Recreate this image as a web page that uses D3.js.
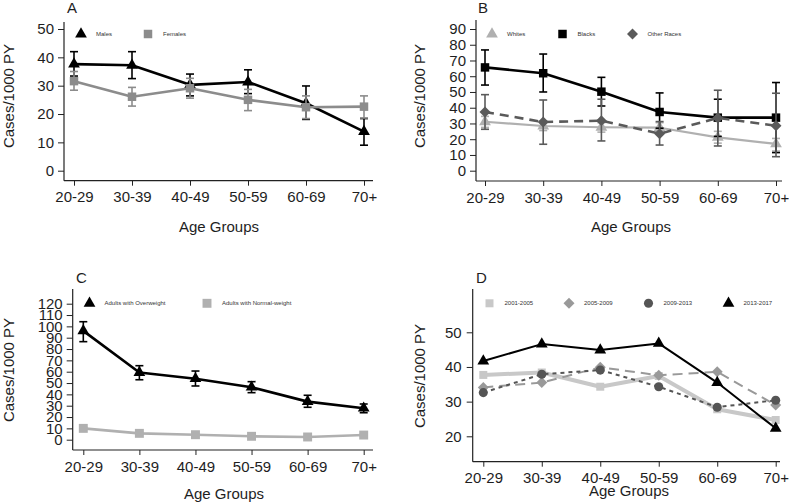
<!DOCTYPE html>
<html>
<head>
<meta charset="utf-8">
<script src="https://cdn.jsdelivr.net/npm/d3@7"></script>
<style>
  html, body { margin: 0; padding: 0; background: #fff; }
  svg { display: block; font-family: "Liberation Sans", Arial, sans-serif; }
</style>
</head>
<body>
<svg id="chart" width="789" height="504"></svg>
<script>
// ---------- DATA ----------
const ageGroups = ["20-29", "30-39", "40-49", "50-59", "60-69", "70+"];

// Panel A: by sex
const malesRate   = [37.6, 37.2, 30.3, 31.3, 23.8, 13.8];
const malesLow    = [33.4, 32.5, 26.4, 27.2, 18.1, 9.0];
const malesHigh   = [42.0, 42.0, 34.1, 35.6, 29.9, 18.4];
const femalesRate = [31.6, 26.1, 29.1, 25.0, 22.4, 22.6];
const femalesLow  = [28.4, 22.8, 25.6, 21.2, 18.4, 18.6];
const femalesHigh = [35.0, 29.4, 32.6, 28.7, 26.4, 26.4];

// Panel B: by race
const whitesRate  = [31.1, 28.4, 27.6, 27.3, 21.2, 17.0];
const whitesLow   = [27.5, 25.5, 24.5, 24.5, 17.5, 12.5];
const whitesHigh  = [34.5, 31.5, 30.5, 30.5, 25.0, 20.5];
const blacksRate  = [65.6, 61.9, 50.2, 37.3, 33.7, 33.7];
const blacksLow   = [54.4, 50.0, 41.1, 27.0, 21.8, 11.5];
const blacksHigh  = [76.7, 74.1, 59.3, 49.4, 45.4, 56.0];
const othersRate  = [37.3, 30.9, 31.8, 23.5, 33.5, 28.6];
const othersLow   = [26.3, 16.8, 18.9, 16.3, 15.7, 8.9];
const othersHigh  = [48.3, 44.9, 45.4, 31.2, 51.1, 49.2];

// Panel C: by weight status
const overRate    = [96.0, 59.3, 53.8, 46.3, 33.6, 27.8];
const overLow     = [86.5, 52.9, 47.4, 41.5, 28.6, 23.8];
const overHigh    = [104.1, 65.3, 60.6, 51.2, 39.2, 31.5];
const normalRate  = [10.0, 5.6, 4.4, 3.0, 2.4, 4.1];
const normalLow   = [9.0, 4.8, 3.7, 2.4, 1.8, 3.3];
const normalHigh  = [11.0, 6.4, 5.1, 3.6, 3.0, 4.9];

// Panel D: by period
const rate2001 = [37.7, 38.4, 34.3, 37.4, 27.8, 24.7];
const rate2005 = [34.1, 35.5, 39.9, 37.6, 38.6, 29.0];
const rate2009 = [32.6, 37.9, 39.1, 34.3, 28.4, 30.4];
const rate2013 = [41.7, 46.6, 44.9, 46.8, 35.5, 22.3];

// Tick labels
const ticksA = [0, 10, 20, 30, 40, 50];
const ticksB = [0, 10, 20, 30, 40, 50, 60, 70, 80, 90];
const ticksC = [0, 10, 20, 30, 40, 50, 60, 70, 80, 90, 100, 110, 120];
const ticksD = [20, 30, 40, 50];

const yTitle = "Cases/1000 PY";
const xTitle = "Age Groups";

// ---------- PANEL CONFIG (layout/styles) ----------
const panels = [
  {
    label: "A", labelX: 67, labelY: 13,
    axisX: 64, axisTop: 22, axisY: 180.7, axisRight: 373,
    xRange: [74, 364], yDomain: [0, 50], yRange: [170.7, 29], ticks: ticksA,
    yTitleX: 13.5, yTitleY: 96, xTitleX: 219, xTitleY: 231.5, tickPad: 4,
    legendY: 34, legendX: [81, 148],
    series: [
      {name: "Males", rate: malesRate, low: malesLow, high: malesHigh, color: "#000", sym: "tri", size: 60, width: 2.6, dash: null},
      {name: "Females", rate: femalesRate, low: femalesLow, high: femalesHigh, color: "#8c8c8c", sym: "sq", size: 72, width: 2.6, dash: null}
    ]
  },
  {
    label: "B", labelX: 478, labelY: 13,
    axisX: 476, axisTop: 20, axisY: 181, axisRight: 782,
    xRange: [485, 776], yDomain: [0, 90], yRange: [170.7, 29], ticks: ticksB,
    yTitleX: 425, yTitleY: 96, xTitleX: 631, xTitleY: 231.5, tickPad: 4,
    legendY: 34, legendX: [492, 562.5, 632.5],
    series: [
      {name: "Whites", rate: whitesRate, low: whitesLow, high: whitesHigh, color: "#b0b0b0", sym: "tri", size: 60, width: 2.2, dash: null},
      {name: "Blacks", rate: blacksRate, low: blacksLow, high: blacksHigh, color: "#000", sym: "sq", size: 72, width: 2.6, dash: null},
      {name: "Other Races", rate: othersRate, low: othersLow, high: othersHigh, color: "#5a5a5a", sym: "dia", size: 60, width: 2.6, dash: "9,6"}
    ]
  },
  {
    label: "C", labelX: 76, labelY: 283,
    axisX: 72.7, axisTop: 289, axisY: 450, axisRight: 373,
    xRange: [83.3, 363.7], yDomain: [0, 120], yRange: [439.7, 303.7], ticks: ticksC,
    yTitleX: 13.5, yTitleY: 370, xTitleX: 224, xTitleY: 499, tickPad: 4,
    legendY: 303.3, legendX: [89.5, 207],
    series: [
      {name: "Adults with Overweight", rate: overRate, low: overLow, high: overHigh, color: "#000", sym: "tri", size: 60, width: 2.6, dash: null},
      {name: "Adults with Normal-weight", rate: normalRate, low: normalLow, high: normalHigh, color: "#b0b0b0", sym: "sq", size: 80, width: 2.6, dash: null}
    ]
  },
  {
    label: "D", labelX: 476, labelY: 283,
    axisX: 472.7, axisTop: 289, axisY: 461.7, axisRight: 780,
    xRange: [483.3, 775.7], yDomain: [20, 50], yRange: [436.3, 332.3], ticks: ticksD,
    yTitleX: 425, yTitleY: 376, xTitleX: 629, xTitleY: 496, tickPad: 5,
    legendY: 303.3, legendX: [489.5, 569, 648.5, 728.5],
    series: [
      {name: "2001-2005", rate: rate2001, color: "#c8c8c8", sym: "sq", size: 64, width: 4, dash: null},
      {name: "2005-2009", rate: rate2005, color: "#999999", sym: "dia", size: 60, width: 2, dash: "10,6"},
      {name: "2009-2013", rate: rate2009, color: "#555555", sym: "circ", size: 65, width: 2, dash: "4,4"},
      {name: "2013-2017", rate: rate2013, color: "#000", sym: "tri", size: 60, width: 2, dash: null}
    ]
  }
];

const symTypes = {tri: d3.symbolTriangle, sq: d3.symbolSquare, dia: d3.symbolSquare, circ: d3.symbolCircle};
function symTransform(s, px, py) {
  return `translate(${px},${py})` + (s.sym === "dia" ? " rotate(45)" : "");
}

// ---------- DRAW ----------
const svg = d3.select("#chart");
const textColor = "#1e1e1e";

panels.forEach(p => {
  const g = svg.append("g");
  const x = d3.scalePoint().domain(ageGroups).range(p.xRange);
  const y = d3.scaleLinear().domain(p.yDomain).range(p.yRange);

  // Y axis
  const yAxis = d3.axisLeft(y).tickValues(p.ticks).tickSize(6).tickPadding(p.tickPad).tickFormat(d3.format("d"));
  const ya = g.append("g").attr("transform", `translate(${p.axisX},0)`).call(yAxis);
  ya.select(".domain").remove();
  ya.selectAll("line").attr("stroke", "#222").attr("stroke-width", 1);
  ya.selectAll("text").attr("font-size", 15).attr("fill", textColor)
    .attr("font-family", '"Liberation Sans", Arial, sans-serif');

  // X axis
  const xAxis = d3.axisBottom(x).tickSize(5).tickPadding(6);
  const xa = g.append("g").attr("transform", `translate(0,${p.axisY})`).call(xAxis);
  xa.select(".domain").remove();
  xa.selectAll("line").attr("stroke", "#222").attr("stroke-width", 1);
  xa.selectAll("text").attr("font-size", 15).attr("fill", textColor)
    .attr("font-family", '"Liberation Sans", Arial, sans-serif');

  // axis lines
  g.append("line").attr("x1", p.axisX).attr("x2", p.axisX).attr("y1", p.axisTop).attr("y2", p.axisY)
    .attr("stroke", "#222").attr("stroke-width", 1.2);
  g.append("line").attr("x1", p.axisX).attr("x2", p.axisRight).attr("y1", p.axisY).attr("y2", p.axisY)
    .attr("stroke", "#222").attr("stroke-width", 1.2);

  // titles
  g.append("text").attr("x", p.labelX).attr("y", p.labelY).attr("font-size", 15).attr("fill", textColor).text(p.label);
  g.append("text").attr("transform", `translate(${p.yTitleX},${p.yTitleY}) rotate(-90)`)
    .attr("text-anchor", "middle").attr("font-size", 15).attr("fill", textColor).text(yTitle);
  g.append("text").attr("x", p.xTitleX).attr("y", p.xTitleY).attr("text-anchor", "middle")
    .attr("font-size", 15).attr("fill", textColor).text(xTitle);

  // series
  p.series.forEach(s => {
    const pts = ageGroups.map((a, i) => ({a, v: s.rate[i], lo: s.low ? s.low[i] : null, hi: s.high ? s.high[i] : null}));
    const line = d3.line().x(d => x(d.a)).y(d => y(d.v));
    g.append("path").datum(pts).attr("d", line).attr("fill", "none")
      .attr("stroke", s.color).attr("stroke-width", s.width)
      .attr("stroke-dasharray", s.dash).attr("stroke-linejoin", "round");
    if (s.low) {
      const eb = g.append("g").selectAll("g").data(pts).join("g").attr("stroke", s.color).attr("stroke-width", 1.6);
      eb.append("line").attr("x1", d => x(d.a)).attr("x2", d => x(d.a)).attr("y1", d => y(d.lo)).attr("y2", d => y(d.hi));
      eb.append("line").attr("x1", d => x(d.a) - 4).attr("x2", d => x(d.a) + 4).attr("y1", d => y(d.lo)).attr("y2", d => y(d.lo));
      eb.append("line").attr("x1", d => x(d.a) - 4).attr("x2", d => x(d.a) + 4).attr("y1", d => y(d.hi)).attr("y2", d => y(d.hi));
    }
    const sym = d3.symbol().type(symTypes[s.sym]).size(s.size);
    g.append("g").selectAll("path").data(pts).join("path")
      .attr("transform", d => symTransform(s, x(d.a), y(d.v)))
      .attr("d", sym).attr("fill", s.color);
  });

  // legend
  p.series.forEach((s, i) => {
    const lx = p.legendX[i];
    g.append("path").attr("transform", symTransform(s, lx, p.legendY))
      .attr("d", d3.symbol().type(symTypes[s.sym]).size(s.size)).attr("fill", s.color);
    g.append("text").attr("x", lx + 15).attr("y", p.legendY + 2).attr("font-size", 6)
      .attr("fill", "#333").text(s.name);
  });
});
</script>
</body>
</html>
